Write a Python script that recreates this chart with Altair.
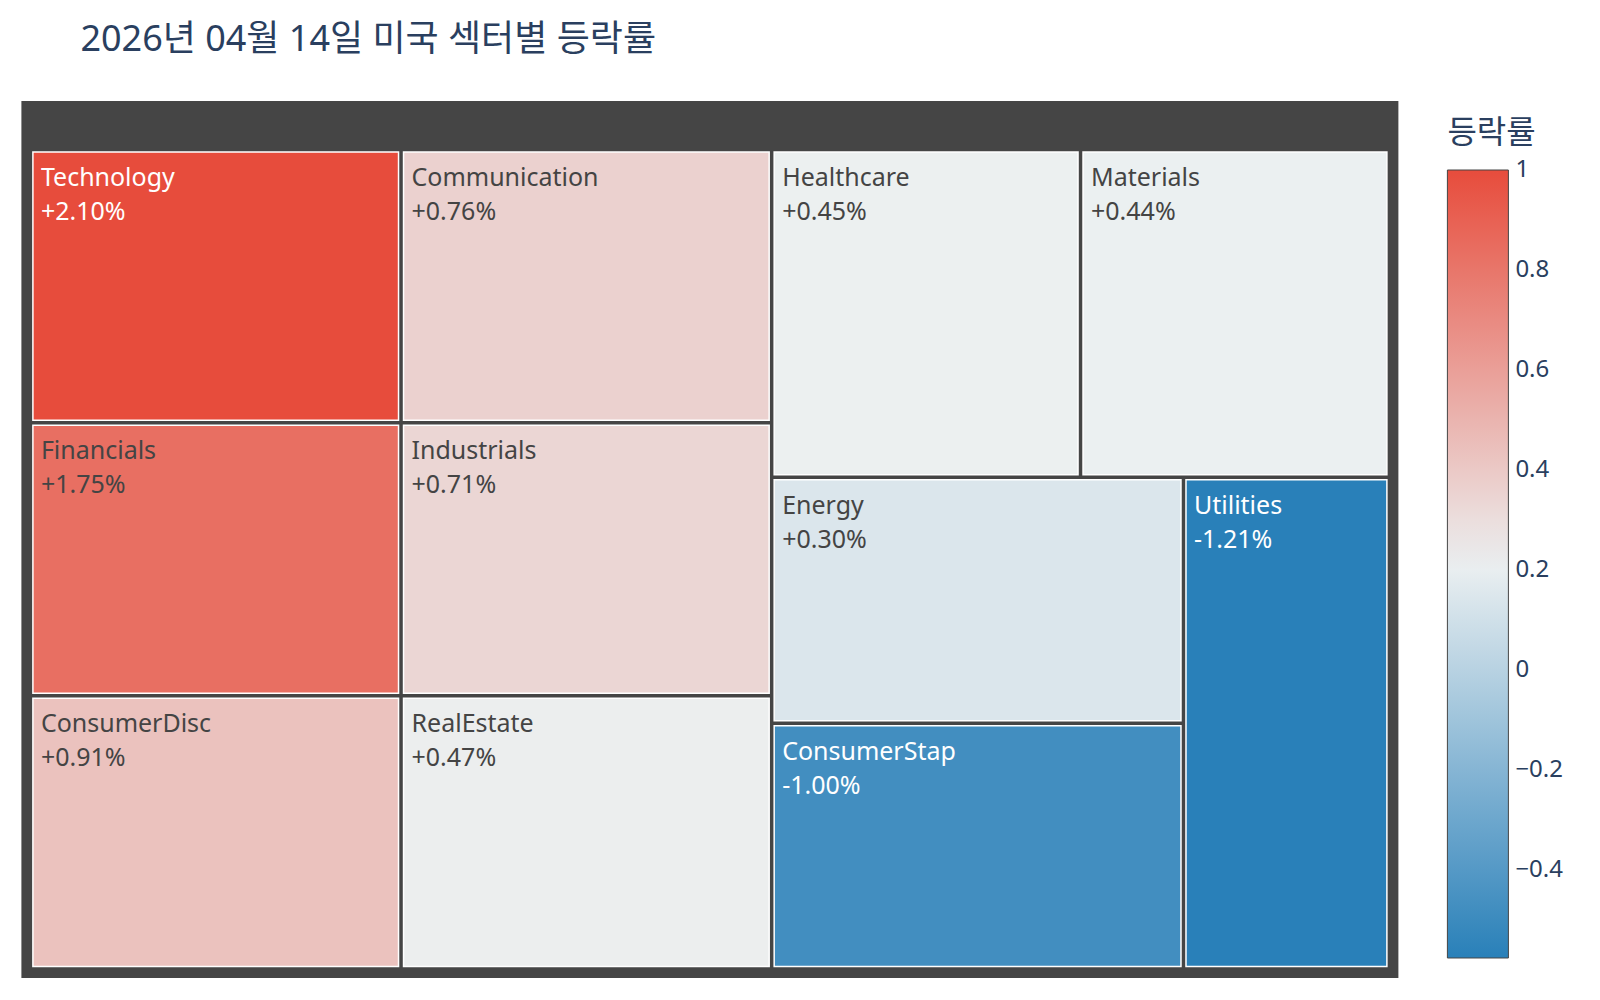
import altair as alt
import pandas as pd

# sector changes for the day (%), treemap weights are all equal
sectors = ["Technology", "Financials", "ConsumerDisc", "Communication", "Industrials",
           "RealEstate", "Healthcare", "Materials", "Energy", "ConsumerStap", "Utilities"]
changes = [2.10, 1.75, 0.91, 0.76, 0.71, 0.47, 0.45, 0.44, 0.30, -1.00, -1.21]
weights = [1] * len(sectors)
# top tick sits a hair under 1 so vega keeps it vertically centred on its value
legend_ticks = [0.9999, 0.8, 0.6, 0.4, 0.2, 0, -0.2, -0.4]

ROOT_W, ROOT_H = 1377, 877
PAD, HEADER, INSET = 9, 48.5, 2.5
FONT = "Noto Sans"
KFONT = "Noto Sans CJK KR"
INK = "#2a3f5f"


def squarify(values, x0, y0, x1, y1, ratio=1.0):
    """d3-hierarchy squarify tiling (the one plotly treemaps use)."""
    out = [None] * len(values)
    total = float(sum(values))
    n = len(values)
    i0 = 0
    while i0 < n:
        dx, dy = x1 - x0, y1 - y0
        i1 = i0 + 1
        s = vmin = vmax = values[i0]
        alpha = max(dy / dx, dx / dy) / (total * ratio)
        beta = s * s * alpha
        best = max(vmax / beta, beta / vmin)
        while i1 < n:
            v = values[i1]
            beta = (s + v) ** 2 * alpha
            r = max(max(vmax, v) / beta, beta / min(vmin, v))
            if r > best:
                break
            s += v
            vmin, vmax, best = min(vmin, v), max(vmax, v), r
            i1 += 1
        if dx < dy:
            # row across the top
            h = dy * s / total
            cx = x0
            for i in range(i0, i1):
                w = dx * values[i] / s
                out[i] = (cx, y0, cx + w, y0 + h)
                cx += w
            y0 += h
        else:
            # column down the left side
            w = dx * s / total
            cy = y0
            for i in range(i0, i1):
                h = dy * values[i] / s
                out[i] = (x0, cy, x0 + w, cy + h)
                cy += h
            x0 += w
        total -= s
        i0 = i1
    return out


tiles = squarify(weights, PAD, HEADER, ROOT_W - PAD, ROOT_H - PAD)
peak = max(abs(c) for c in changes)

df = pd.DataFrame({
    "sector": sectors,
    "change": changes,
    "x0": [t[0] + INSET for t in tiles],
    "y0": [t[1] + INSET for t in tiles],
    "x1": [t[2] - INSET for t in tiles],
    "y1": [t[3] - INSET for t in tiles],
})
df["등락률"] = df["change"] / peak
df["label"] = df["change"].map(lambda v: f"{v:+.2f}%")

root = pd.DataFrame({"x0": [0], "y0": [0], "x1": [ROOT_W], "y1": [ROOT_H]})

lo = df["등락률"].min()
color_scale = alt.Scale(domain=[lo, (lo + 1) / 2, 1],
                        range=["#2980b9", "#ecf0f1", "#e74c3c"],
                        interpolate="rgb")

xs = alt.Scale(domain=[0, ROOT_W], nice=False, zero=False)
ys = alt.Scale(domain=[0, ROOT_H], nice=False, zero=False, reverse=True)

bg = alt.Chart(root).mark_rect(color="#454545").encode(
    x=alt.X("x0:Q", scale=xs, axis=None),
    x2="x1:Q",
    y=alt.Y("y0:Q", scale=ys, axis=None),
    y2="y1:Q",
)

cells = alt.Chart(df).mark_rect(stroke="#ffffff", strokeWidth=1.5).encode(
    x=alt.X("x0:Q", scale=xs, axis=None),
    x2="x1:Q",
    y=alt.Y("y0:Q", scale=ys, axis=None),
    y2="y1:Q",
    color=alt.Color("등락률:Q", scale=color_scale, legend=alt.Legend(
        title="등락률", orient="none", legendX=1426, legendY=17, direction="vertical",
        gradientLength=788, gradientThickness=61,
        gradientStrokeColor="#444444", gradientStrokeWidth=1,
        values=legend_ticks, labelExpr="format(datum.value, '.1~f')",
        labelFont=FONT, labelFontSize=24, labelColor=INK,
        labelBaseline="middle", labelOffset=7,
        titleFont=KFONT, titleFontSize=32, titleColor=INK,
        titleFontWeight="normal", titlePadding=20, padding=0,
    )),
    tooltip=["sector", "label"],
)

text_color = alt.condition("datum['등락률'] > 0.9 || datum['등락률'] < -0.3",
                           alt.value("#ffffff"), alt.value("#444444"))

names = alt.Chart(df).mark_text(align="left", baseline="alphabetic", dx=8, dy=34,
                                font=FONT, fontSize=25).encode(
    x=alt.X("x0:Q", scale=xs), y=alt.Y("y0:Q", scale=ys),
    text="sector:N", color=text_color,
)

pcts = alt.Chart(df).mark_text(align="left", baseline="alphabetic", dx=8, dy=68,
                               font=FONT, fontSize=25).encode(
    x=alt.X("x0:Q", scale=xs), y=alt.Y("y0:Q", scale=ys),
    text="label:N", color=text_color,
)

chart = (bg + cells + names + pcts).properties(
    width=ROOT_W,
    height=ROOT_H,
    autosize=alt.AutoSizeParams(type="none"),
    padding={"left": 13.4, "top": 93, "right": 170, "bottom": 10},
    title=alt.TitleParams("2026년 04월 14일 미국 섹터별 등락률", anchor="start", dx=59,
                          offset=42, font=f"{FONT}, {KFONT}", fontSize=36,
                          fontWeight="normal", color=INK),
).configure_view(strokeWidth=0)

chart.save("out.html", embed_options={"renderer": "svg", "actions": False})
